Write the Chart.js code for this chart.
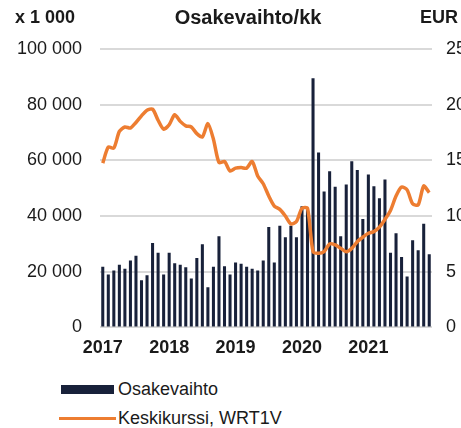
<!DOCTYPE html>
<html>
<head>
<meta charset="utf-8">
<script src="https://cdn.jsdelivr.net/npm/chart.js@4/dist/chart.umd.min.js"></script>
<style>
  html, body { margin: 0; padding: 0; background: #fff; overflow: hidden; }
  #wrap { position: relative; width: 461px; height: 428px; font-family: "Liberation Sans", Arial, sans-serif; }
  #chartBox { position: absolute; left: 0; top: 0; width: 461px; height: 363px; }
  .leg { position: absolute; left: 0; height: 20px; display: flex; align-items: center; font-size: 18px; color: #1a1a1a; white-space: nowrap; }
  .leg .sw { display: inline-block; margin-right: 4px; }
</style>
</head>
<body>
<div id="wrap">
  <div id="chartBox"><canvas id="c" width="461" height="363"></canvas></div>
  <div id="legend"></div>
</div>
<script>
// Monthly share turnover (thousands of shares) and average share price (EUR), Jan 2017 – Dec 2021
const years = ['2017', '2018', '2019', '2020', '2021'];
const months = years.flatMap(y => Array.from({ length: 12 }, (_, m) => y + '-' + String(m + 1).padStart(2, '0')));

const turnover = [
  21.8, 19.0, 20.4, 22.5, 21.1, 24.0, 25.7, 16.9, 18.7, 30.3, 26.8, 19.0,
  26.8, 23.0, 22.5, 21.6, 17.6, 24.9, 29.9, 14.4, 21.8, 32.7, 22.0, 19.0,
  23.3, 22.9, 21.8, 21.1, 20.4, 24.0, 36.1, 23.3, 36.5, 32.4, 36.5, 32.4,
  43.5, 42.8, 89.5, 62.8, 48.8, 56.1, 50.5, 32.7, 51.3, 59.7, 56.5, 38.9,
  54.9, 50.7, 46.4, 53.1, 26.8, 33.8, 25.3, 18.3, 31.3, 27.7, 37.2, 26.3
].map(v => v * 1000);

const avgPrice = [
  14.75, 16.2, 16.1, 17.6, 18.0, 17.9, 18.4, 19.0, 19.5, 19.6, 18.6, 17.8,
  18.2, 19.1, 18.5, 18.1, 18.0, 17.4, 17.1, 18.3, 16.9, 14.8, 14.9, 14.05,
  14.3, 14.35, 14.3, 14.9, 13.6, 12.9, 11.8, 10.9, 10.6, 10.0, 9.3, 9.5,
  10.7, 10.7, 6.8, 6.65, 6.8, 7.5, 7.4, 7.1, 6.8, 7.1, 7.7, 8.1,
  8.45, 8.6, 9.0, 9.7, 10.5, 11.8, 12.6, 12.35, 11.1, 11.0, 12.7, 12.1
];

const leftTicks = [0, 20000, 40000, 60000, 80000, 100000];
const rightTicks = [0, 5, 10, 15, 20, 25];

const BAR_COLOR = '#18213a';
const LINE_COLOR = '#ED7D31';
const TEXT_COLOR = '#1a1a1a';
const FONT = '"Liberation Sans", Arial, sans-serif';

const fmtThousands = v => String(v).replace(/\B(?=(\d{3})+(?!\d))/g, ' ');

// Header texts above the plot: unit on the left, title, currency on the right
const headerPlugin = {
  id: 'header',
  afterDraw(chart) {
    const ctx = chart.ctx;
    ctx.save();
    ctx.fillStyle = TEXT_COLOR;
    ctx.textBaseline = 'alphabetic';
    ctx.font = 'bold 18px ' + FONT;
    ctx.textAlign = 'left';
    ctx.fillText('x 1 000', 15, 23);
    ctx.fillText('EUR', 420, 23);
    ctx.font = 'bold 20px ' + FONT;
    ctx.textAlign = 'center';
    ctx.fillText('Osakevaihto/kk', 248, 24);
    ctx.restore();
  }
};

const chart = new Chart(document.getElementById('c'), {
  data: {
    labels: months,
    datasets: [
      {
        type: 'line',
        label: 'Keskikurssi, WRT1V',
        data: avgPrice,
        yAxisID: 'yRight',
        borderColor: LINE_COLOR,
        backgroundColor: LINE_COLOR,
        borderWidth: 3.5,
        pointRadius: 0,
        tension: 0.25,
        order: 0
      },
      {
        type: 'bar',
        label: 'Osakevaihto',
        data: turnover,
        yAxisID: 'yLeft',
        backgroundColor: BAR_COLOR,
        barPercentage: 0.55,
        categoryPercentage: 1.0,
        order: 1
      }
    ]
  },
  options: {
    responsive: false,
    animation: false,
    layout: { padding: { top: 49, bottom: 2, left: 0, right: 0 } },
    plugins: {
      legend: { display: false },
      tooltip: { enabled: false },
      title: { display: false }
    },
    scales: {
      x: {
        type: 'category',
        offset: true,
        grid: { display: false },
        border: { display: false },
        ticks: {
          autoSkip: false,
          maxRotation: 0,
          minRotation: 0,
          padding: 2,
          color: TEXT_COLOR,
          font: { family: FONT, size: 18, weight: 'bold' },
          callback: (val, i) => (i % 12 === 0 ? years[i / 12] : '')
        }
      },
      yLeft: {
        type: 'linear',
        position: 'left',
        min: leftTicks[0],
        max: leftTicks[leftTicks.length - 1],
        afterBuildTicks: s => { s.ticks = leftTicks.map(v => ({ value: v })); },
        afterFit: s => { s.width = 100; },
        grid: { color: '#d9d9d9', lineWidth: 2, drawTicks: false },
        border: { display: false },
        ticks: {
          padding: 18,
          color: TEXT_COLOR,
          font: { family: FONT, size: 18 },
          callback: v => fmtThousands(v)
        }
      },
      yRight: {
        type: 'linear',
        position: 'right',
        min: rightTicks[0],
        max: rightTicks[rightTicks.length - 1],
        afterBuildTicks: s => { s.ticks = rightTicks.map(v => ({ value: v })); },
        afterFit: s => { s.width = 29; },
        grid: { display: false, drawTicks: false },
        border: { display: false },
        ticks: {
          padding: 14,
          color: TEXT_COLOR,
          font: { family: FONT, size: 18 },
          callback: v => String(v)
        }
      }
    }
  },
  plugins: [headerPlugin]
});

// Legend below the chart, built from the chart's datasets (bars first, then the line)
const legendEl = document.getElementById('legend');
const legendOrder = [1, 0];
const legendTops = [379, 408];
legendOrder.forEach((dsIndex, k) => {
  const ds = chart.data.datasets[dsIndex];
  const row = document.createElement('div');
  row.className = 'leg';
  row.style.top = legendTops[k] + 'px';
  const sw = document.createElement('span');
  sw.className = 'sw';
  if (ds.type === 'bar') {
    sw.style.cssText = 'width:53px;height:9px;margin-left:61px;background:' + ds.backgroundColor;
  } else {
    sw.style.cssText = 'width:57px;height:3px;margin-left:59px;margin-right:2px;background:' + ds.borderColor;
  }
  const tx = document.createElement('span');
  tx.textContent = ds.label;
  row.appendChild(sw);
  row.appendChild(tx);
  legendEl.appendChild(row);
});
</script>
</body>
</html>
